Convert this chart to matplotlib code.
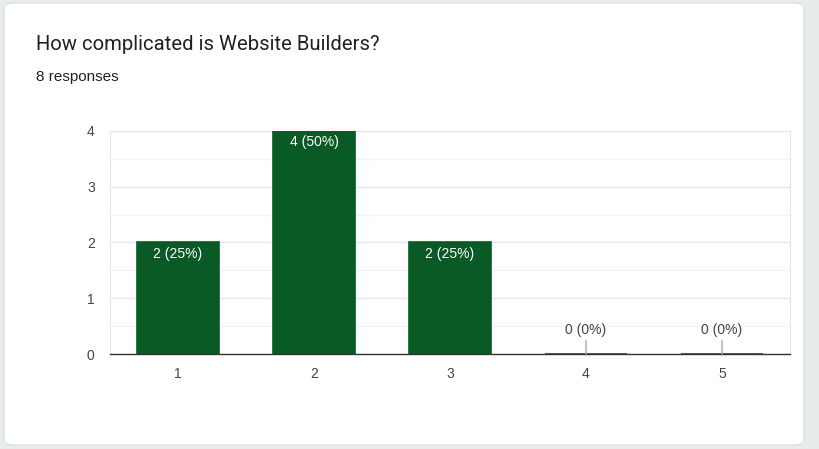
import matplotlib.pyplot as plt
from matplotlib.patches import FancyBboxPatch

categories = ["1", "2", "3", "4", "5"]
counts = [2, 4, 2, 0, 0]
total = 8
title = "How complicated is Website Builders?"
subtitle = "8 responses"

bar_color = "#0a5a26"
plt.rcParams["font.family"] = ["Liberation Sans", "DejaVu Sans"]

fig = plt.figure(figsize=(8.2, 4.49), dpi=100)
fig.patch.set_facecolor("#e7eeea")

# white card behind everything
card = FancyBboxPatch((4 / 820, 4 / 449), 800 / 820, 442 / 449,
                      boxstyle="round,pad=0,rounding_size=0.012",
                      transform=fig.transFigure, facecolor="white",
                      edgecolor="#dadce0", linewidth=0.8, zorder=-10)
fig.patches.append(card)

fig.text(36 / 820, 1 - 44 / 449, title, fontsize=14.6, color="#202124",
         va="center", family=["Roboto", "DejaVu Sans"])
fig.text(36 / 820, 1 - 77 / 449, subtitle, fontsize=11, color="#202124", va="center")

ax = fig.add_axes([110 / 820, 1 - 354 / 449, 680 / 820, 223 / 449])
ax.set_zorder(5)
ax.set_facecolor("none")
x = list(range(len(categories)))
ax.bar(x, counts, width=0.61, color=bar_color, edgecolor=bar_color,
       linewidth=1.2, zorder=3)

ax.set_xlim(-0.5, len(categories) - 0.5)
ax.set_ylim(0, 4)
ax.set_yticks([0, 1, 2, 3, 4])
ax.set_yticks([0.5, 1.5, 2.5, 3.5], minor=True)
ax.set_xticks(x)
ax.set_xticklabels(categories)
ax.tick_params(axis="both", which="both", length=0, labelsize=10, colors="#444444")
ax.tick_params(axis="y", pad=11)
ax.tick_params(axis="x", pad=9)
ax.grid(axis="y", which="major", color="#e6e6e6", linewidth=1, zorder=0)
ax.grid(axis="y", which="minor", color="#f3f3f3", linewidth=1, zorder=0)

for side in ["top", "left", "right"]:
    ax.spines[side].set_color("#e6e6e6")
ax.spines["bottom"].set_color("#333333")
ax.spines["bottom"].set_linewidth(1)
ax.spines["bottom"].set_zorder(4)

for xi, c in zip(x, counts):
    label = f"{c} ({c / total * 100:.0f}%)"
    if c > 0:
        ax.annotate(label, (xi, c), xytext=(0, -8), textcoords="offset points",
                    ha="center", va="center", color="white", fontsize=10, zorder=5)
    else:
        ax.annotate(label, (xi, 0), xytext=(0, 17), textcoords="offset points",
                    ha="center", va="center", color="#444444", fontsize=10, zorder=5)
        ax.annotate("", (xi, 0), xytext=(0, 10), textcoords="offset points",
                    arrowprops=dict(arrowstyle="-", color="#aaaaaa", lw=1,
                                    shrinkA=0, shrinkB=0), zorder=5)

fig.savefig("out.png", dpi=100, facecolor=fig.get_facecolor())
